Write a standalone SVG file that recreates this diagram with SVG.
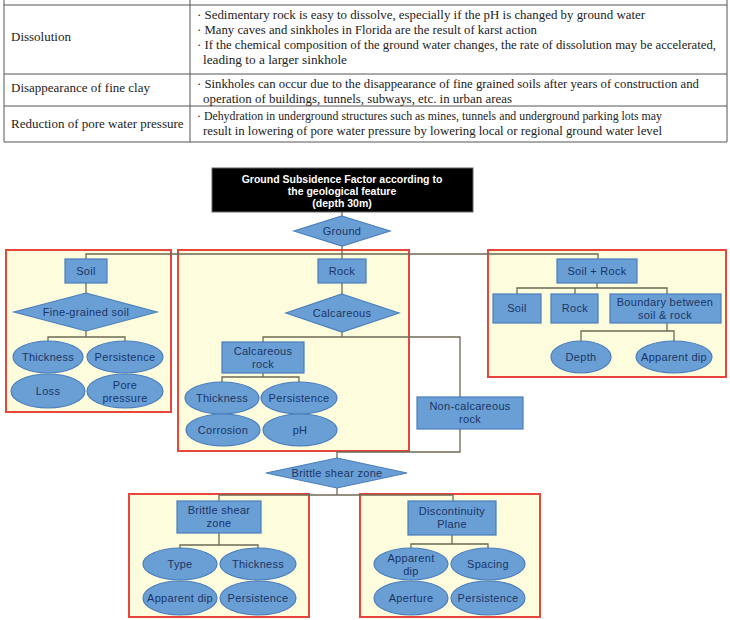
<svg xmlns="http://www.w3.org/2000/svg" width="730" height="620" viewBox="0 0 730 620">
<style>
.tl{stroke:#555;stroke-width:1;fill:none}
.tt{font-family:"Liberation Serif","Times New Roman",serif;font-size:13px;fill:#222}
.grp{fill:#fdfcdc;stroke:#e8453c;stroke-width:2}
.nd{fill:#6a9fd6;stroke:#4a7ebb;stroke-width:1.2}
.lb{font-family:"Liberation Sans",Arial,sans-serif;font-size:11px;fill:#1a3565;text-anchor:middle;letter-spacing:0.3px}
.cn{stroke:#6d6a55;stroke-width:1.3;fill:none}
.ti{font-family:"Liberation Sans",Arial,sans-serif;font-size:10.5px;font-weight:bold;fill:#fff;text-anchor:middle}
</style>
<rect width="730" height="620" fill="#fff"/>
<g id="table">
<line class="tl" x1="4" y1="5" x2="727" y2="5"/>
<line class="tl" x1="4" y1="74" x2="727" y2="74"/>
<line class="tl" x1="4" y1="106" x2="727" y2="106"/>
<line class="tl" x1="4" y1="142" x2="727" y2="142"/>
<line class="tl" x1="4" y1="0" x2="4" y2="142"/>
<line class="tl" x1="190" y1="0" x2="190" y2="142"/>
<line class="tl" x1="727" y1="0" x2="727" y2="142"/>
<text class="tt" x="11" y="41">Dissolution</text>
<text class="tt" x="11" y="92">Disappearance of fine clay</text>
<text class="tt" x="11" y="128">Reduction of pore water pressure</text>
<text class="tt" x="197" y="19" textLength="448" lengthAdjust="spacingAndGlyphs">· Sedimentary rock is easy to dissolve, especially if the pH is changed by ground water</text>
<text class="tt" x="197" y="34" textLength="340" lengthAdjust="spacingAndGlyphs">· Many caves and sinkholes in Florida are the result of karst action</text>
<text class="tt" x="197" y="49" textLength="519" lengthAdjust="spacingAndGlyphs">· If the chemical composition of the ground water changes, the rate of dissolution may be accelerated,</text>
<text class="tt" x="203" y="64" textLength="144" lengthAdjust="spacingAndGlyphs">leading to a larger sinkhole</text>
<text class="tt" x="197" y="88" textLength="502" lengthAdjust="spacingAndGlyphs">· Sinkholes can occur due to the disappearance of fine grained soils after years of construction and</text>
<text class="tt" x="203" y="103" textLength="309" lengthAdjust="spacingAndGlyphs">operation of buildings, tunnels, subways, etc. in urban areas</text>
<text class="tt" x="197" y="120" textLength="465" lengthAdjust="spacingAndGlyphs">· Dehydration in underground structures such as mines, tunnels and underground parking lots may</text>
<text class="tt" x="203" y="135" textLength="459" lengthAdjust="spacingAndGlyphs">result in lowering of pore water pressure by lowering local or regional ground water level</text>
</g>
<g id="regions">
<rect class="grp" x="6" y="250" width="165" height="162"/>
<rect class="grp" x="178" y="250" width="231" height="201"/>
<rect class="grp" x="488" y="250" width="238" height="127"/>
<rect class="grp" x="129" y="494" width="180" height="123"/>
<rect class="grp" x="360" y="494" width="180" height="123"/>
</g>
<g id="connectors">
<path class="cn" d="M342 212V216"/>
<path class="cn" d="M342 246V259"/>
<path class="cn" d="M86 259V254H598V259"/>
<path class="cn" d="M86 283V293"/>
<path class="cn" d="M86 331V337M48 341V337H125V341"/>
<path class="cn" d="M342 283V294"/>
<path class="cn" d="M342 332V337M263 342V337H460V397"/>
<path class="cn" d="M263 373V377M222 382V377H299V382"/>
<path class="cn" d="M460 429V452H337M337 451V458"/>
<path class="cn" d="M337 488V495M219 501V495H453V501"/>
<path class="cn" d="M219 533V545M180 548V545H258V548"/>
<path class="cn" d="M452 535V544M411 548V544H488V548"/>
<path class="cn" d="M597 283V288M517 294V288H667V294M575 288V294"/>
<path class="cn" d="M667 323V331M581 341V331H674V341"/>
</g>
<g id="title">
<rect x="212" y="168" width="261" height="44" fill="#000" stroke="#666" stroke-width="1"/>
<text class="ti" x="342" y="183">Ground Subsidence Factor according to</text>
<text class="ti" x="342" y="195">the geological feature</text>
<text class="ti" x="342" y="207">(depth 30m)</text>
</g>
<g id="ground"><polygon class="nd" points="342,216 390,231 342,246 294,231"/><text class="lb" x="342" y="235">Ground</text></g>
<g id="soil"><rect class="nd" x="65" y="259" width="42" height="24"/><text class="lb" x="86" y="275">Soil</text></g>
<g id="fine-grained"><polygon class="nd" points="86,293 157,312 86,331 14,312"/><text class="lb" x="86" y="316">Fine-grained soil</text></g>
<g id="soil-thickness"><ellipse class="nd" cx="48" cy="357" rx="35" ry="16"/><text class="lb" x="48" y="361">Thickness</text></g>
<g id="soil-persistence"><ellipse class="nd" cx="125" cy="357" rx="38" ry="16"/><text class="lb" x="125" y="361">Persistence</text></g>
<g id="soil-loss"><ellipse class="nd" cx="48" cy="391" rx="37" ry="17"/><text class="lb" x="48" y="395">Loss</text></g>
<g id="soil-pore"><ellipse class="nd" cx="125" cy="391" rx="38" ry="17"/><text class="lb" x="125" y="389">Pore</text><text class="lb" x="125" y="402">pressure</text></g>
<g id="rock"><rect class="nd" x="318" y="259" width="48" height="24"/><text class="lb" x="342" y="275">Rock</text></g>
<g id="calcareous"><polygon class="nd" points="342,294 399,313 342,332 286,313"/><text class="lb" x="342" y="317">Calcareous</text></g>
<g id="calc-rock"><rect class="nd" x="222" y="342" width="82" height="31"/><text class="lb" x="263" y="355">Calcareous</text><text class="lb" x="263" y="368">rock</text></g>
<g id="rock-thickness"><ellipse class="nd" cx="222" cy="398" rx="37" ry="16"/><text class="lb" x="222" y="402">Thickness</text></g>
<g id="rock-persistence"><ellipse class="nd" cx="299" cy="398" rx="38" ry="16"/><text class="lb" x="299" y="402">Persistence</text></g>
<g id="rock-corrosion"><ellipse class="nd" cx="223" cy="430" rx="37" ry="16"/><text class="lb" x="223" y="434">Corrosion</text></g>
<g id="rock-ph"><ellipse class="nd" cx="300" cy="430" rx="37" ry="16"/><text class="lb" x="300" y="434">pH</text></g>
<g id="non-calc"><rect class="nd" x="417" y="397" width="106" height="32"/><text class="lb" x="470" y="410">Non-calcareous</text><text class="lb" x="470" y="423">rock</text></g>
<g id="soil-rock"><rect class="nd" x="557" y="259" width="80" height="24"/><text class="lb" x="597" y="275">Soil + Rock</text></g>
<g id="sr-soil"><rect class="nd" x="493" y="294" width="48" height="29"/><text class="lb" x="517" y="312">Soil</text></g>
<g id="sr-rock"><rect class="nd" x="551" y="294" width="47" height="29"/><text class="lb" x="575" y="312">Rock</text></g>
<g id="boundary"><rect class="nd" x="610" y="294" width="111" height="29"/><text class="lb" x="665" y="306">Boundary between</text><text class="lb" x="665" y="319">soil &amp; rock</text></g>
<g id="depth"><ellipse class="nd" cx="581" cy="357" rx="30" ry="16"/><text class="lb" x="581" y="361">Depth</text></g>
<g id="sr-dip"><ellipse class="nd" cx="674" cy="357" rx="38" ry="16"/><text class="lb" x="674" y="361">Apparent dip</text></g>
<g id="brittle-diamond"><polygon class="nd" points="337,458 407,473 337,488 266,473"/><text class="lb" x="337" y="477">Brittle shear zone</text></g>
<g id="bsz"><rect class="nd" x="177" y="501" width="84" height="32"/><text class="lb" x="219" y="514">Brittle shear</text><text class="lb" x="219" y="527">zone</text></g>
<g id="bsz-type"><ellipse class="nd" cx="180" cy="564" rx="37" ry="16"/><text class="lb" x="180" y="568">Type</text></g>
<g id="bsz-thickness"><ellipse class="nd" cx="258" cy="564" rx="38" ry="16"/><text class="lb" x="258" y="568">Thickness</text></g>
<g id="bsz-dip"><ellipse class="nd" cx="180" cy="598" rx="37" ry="17"/><text class="lb" x="180" y="602">Apparent dip</text></g>
<g id="bsz-persistence"><ellipse class="nd" cx="258" cy="598" rx="38" ry="17"/><text class="lb" x="258" y="602">Persistence</text></g>
<g id="dp"><rect class="nd" x="408" y="501" width="88" height="34"/><text class="lb" x="452" y="515">Discontinuity</text><text class="lb" x="452" y="528">Plane</text></g>
<g id="dp-dip"><ellipse class="nd" cx="411" cy="564" rx="37" ry="16"/><text class="lb" x="411" y="562">Apparent</text><text class="lb" x="411" y="575">dip</text></g>
<g id="dp-spacing"><ellipse class="nd" cx="488" cy="564" rx="37" ry="16"/><text class="lb" x="488" y="568">Spacing</text></g>
<g id="dp-aperture"><ellipse class="nd" cx="411" cy="598" rx="37" ry="17"/><text class="lb" x="411" y="602">Aperture</text></g>
<g id="dp-persistence"><ellipse class="nd" cx="488" cy="598" rx="37" ry="17"/><text class="lb" x="488" y="602">Persistence</text></g>
</svg>
